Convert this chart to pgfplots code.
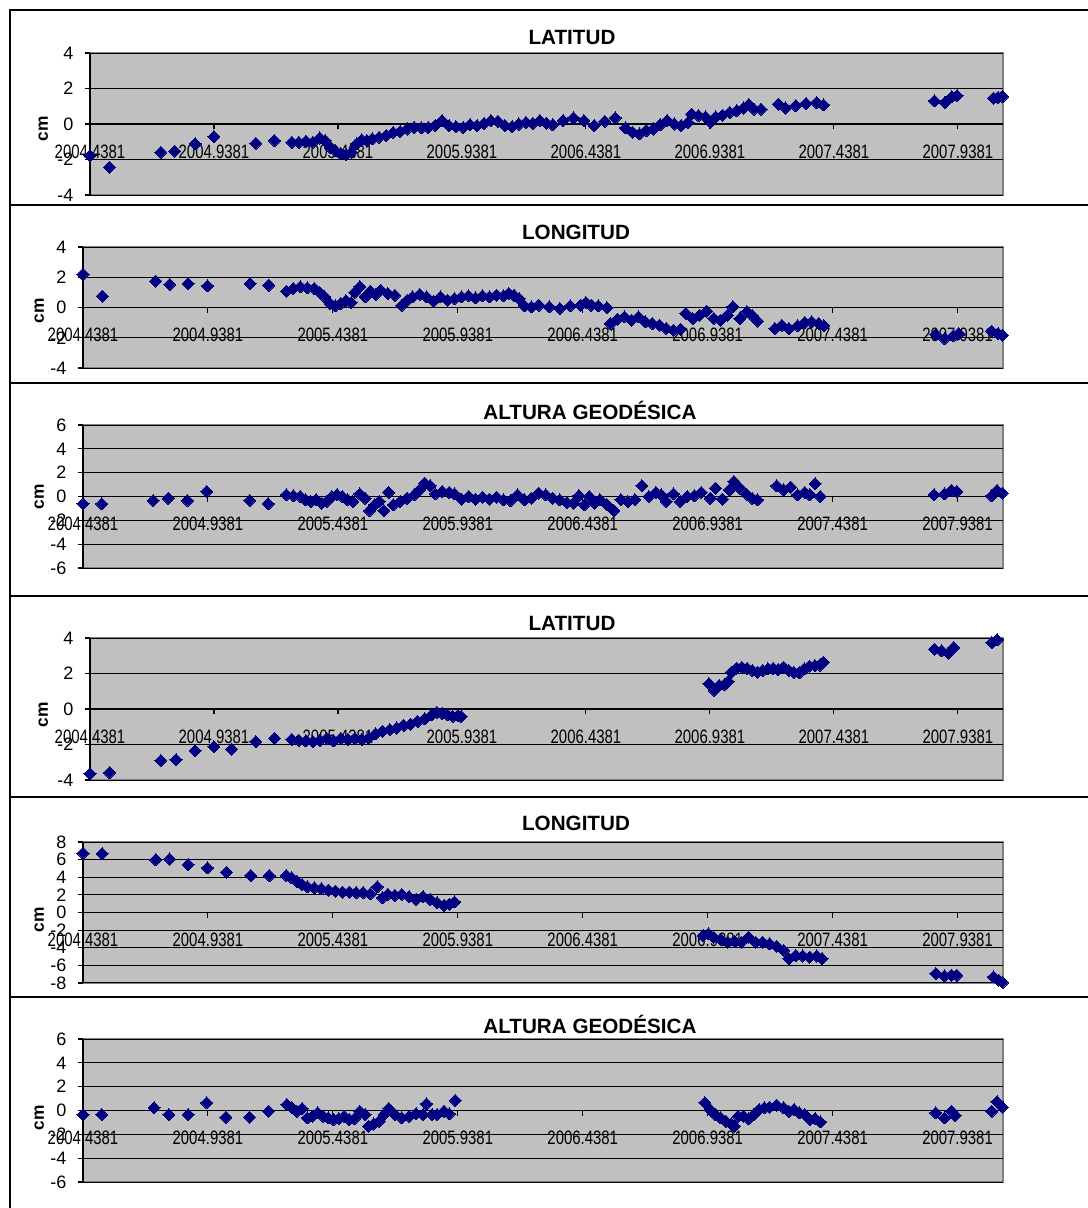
\documentclass[border=0pt]{standalone}
\usepackage{pgfplots}
\pgfplotsset{compat=1.18}
\usepackage{fontspec}
\setmainfont{Liberation Sans}
\usepackage{graphicx}
\definecolor{plotgray}{RGB}{192,192,192}
\definecolor{bordergray}{RGB}{128,128,128}
\definecolor{navyb}{RGB}{0,0,128}
\newcommand{\xl}[1]{\scalebox{1}[1.3]{#1}}
\pgfplotsset{
  excel/.style={
    scale only axis, anchor=north west,
    xmin=2004.4381, xmax=2008.12,
    enlargelimits=false, clip=false,
    axis x line=middle, axis y line=left,
    hide obscured x ticks=false, hide obscured y ticks=false,
    every inner x axis line/.append style={-},
    every outer y axis line/.append style={-},
    axis line style={-, black, line width=1pt},
    axis background/.style={fill=plotgray, draw=bordergray, line width=0.9pt},
    ymajorgrids, grid style={black, line width=0.75pt},
    xtick={2004.4381,2004.9381,2005.4381,2005.9381,2006.4381,2006.9381,2007.4381,2007.9381},
    xticklabels={\xl{2004.4381},\xl{2004.9381},\xl{2005.4381},\xl{2005.9381},\xl{2006.4381},\xl{2006.9381},\xl{2007.4381},\xl{2007.9381}},
    tick align=outside, major tick length=4pt,
    tick style={black, line width=0.8pt},
    xticklabel style={font=\fontsize{11.2}{12}\selectfont, anchor=center, yshift=-16.5pt},
    yticklabel style={font=\fontsize{13.5}{14}\selectfont, xshift=-5pt},
    scaled ticks=false,
  },
  pts/.style={only marks, mark=square*, mark size=3.2pt, color=navyb, mark options={rotate=45, fill=navyb, draw=navyb, line width=0pt}},
}
\begin{document}
\begin{tikzpicture}
\useasboundingbox (0,0) rectangle (816pt,-906pt);
\fill[white] (0,0) rectangle (816pt,-906pt);
% frame and separators
\draw[line width=1.1pt] (7.5pt,-906pt) -- (7.5pt,-7.5pt) -- (816pt,-7.5pt);
\foreach \yy in {153.75,287.25,447,597.75,747.75} {\draw[line width=1.1pt] (7.5pt,-\yy pt) -- (816pt,-\yy pt);}
% titles
\begin{scope}[every node/.style={font=\bfseries\fontsize{15.5}{18}\selectfont}]
\node at (429pt,-27.75pt) {LATITUD};
\node at (432pt,-174pt) {LONGITUD};
\node at (442.5pt,-307.5pt) {ALTURA GEODÉSICA};
\node at (429pt,-467.25pt) {LATITUD};
\node at (432pt,-617.25pt) {LONGITUD};
\node at (442.5pt,-768pt) {ALTURA GEODÉSICA};
\end{scope}
\begin{scope}[every node/.style={font=\bfseries\fontsize{13}{15}\selectfont, rotate=90}]
\node at (32.5pt,-96.75pt) {cm};
\node at (29.5pt,-233.25pt) {cm};
\node at (29.5pt,-372.75pt) {cm};
\node at (32.5pt,-536.25pt) {cm};
\node at (29.5pt,-690pt) {cm};
\node at (29.5pt,-838.5pt) {cm};
\end{scope}

% Panel 1 LATITUD
\begin{axis}[excel, at={(67.5pt,-39.75pt)}, width=684.75pt, height=106.5pt,
  ymin=-4, ymax=4, ytick={-4,-2,0,2,4}, yticklabels={-4,-2,0,2,4}]
\addplot[pts] coordinates {(2004.438,-1.78) (2004.517,-2.43) (2004.724,-1.59) (2004.780,-1.53) (2004.862,-1.12) (2004.938,-0.71) (2005.107,-1.08) (2005.182,-0.93) (2005.252,-1.03) (2005.280,-1.03) (2005.309,-0.97) (2005.337,-1.03) (2005.365,-0.79) (2005.386,-0.93) (2005.407,-1.31) (2005.428,-1.50) (2005.450,-1.68) (2005.471,-1.72) (2005.492,-1.59) (2005.513,-1.12) (2005.534,-0.90) (2005.555,-0.93) (2005.576,-0.84) (2005.604,-0.75) (2005.633,-0.65) (2005.661,-0.47) (2005.689,-0.43) (2005.717,-0.28) (2005.745,-0.19) (2005.774,-0.22) (2005.802,-0.19) (2005.830,-0.09) (2005.858,0.19) (2005.886,-0.09) (2005.914,-0.15) (2005.943,-0.19) (2005.971,-0.04) (2005.999,-0.09) (2006.027,0.04) (2006.055,0.19) (2006.083,0.15) (2006.111,-0.09) (2006.140,-0.15) (2006.168,0.00) (2006.196,0.09) (2006.224,0.04) (2006.252,0.19) (2006.278,0.05) (2006.304,-0.04) (2006.346,0.19) (2006.388,0.34) (2006.430,0.19) (2006.472,-0.09) (2006.514,0.15) (2006.556,0.34) (2006.598,-0.22) (2006.626,-0.47) (2006.654,-0.56) (2006.682,-0.37) (2006.710,-0.28) (2006.738,-0.04) (2006.766,0.19) (2006.794,0.00) (2006.822,-0.09) (2006.850,0.09) (2006.864,0.56) (2006.892,0.47) (2006.920,0.40) (2006.941,0.10) (2006.962,0.40) (2006.990,0.50) (2007.018,0.65) (2007.046,0.75) (2007.074,0.90) (2007.095,1.10) (2007.116,0.84) (2007.144,0.84) (2007.214,1.12) (2007.242,0.90) (2007.284,1.03) (2007.326,1.16) (2007.368,1.21) (2007.396,1.08) (2007.844,1.30) (2007.886,1.21) (2007.914,1.53) (2007.935,1.59) (2008.082,1.46) (2008.100,1.50) (2008.118,1.55)};
\end{axis}

% Panel 2 LONGITUD
\begin{axis}[excel, at={(62.25pt,-185.25pt)}, width=690pt, height=90.75pt,
  ymin=-4, ymax=4, ytick={-4,-2,0,2,4}, yticklabels={-4,-2,0,2,4}]
\addplot[pts] coordinates {(2004.438,2.20) (2004.515,0.75) (2004.729,1.74) (2004.785,1.52) (2004.859,1.59) (2004.936,1.43) (2005.107,1.59) (2005.182,1.48) (2005.252,1.08) (2005.280,1.26) (2005.308,1.37) (2005.336,1.30) (2005.364,1.26) (2005.385,0.99) (2005.406,0.70) (2005.427,0.26) (2005.448,0.11) (2005.469,0.26) (2005.490,0.44) (2005.511,0.33) (2005.525,0.99) (2005.546,1.37) (2005.567,0.70) (2005.588,1.08) (2005.609,0.86) (2005.630,1.15) (2005.658,0.93) (2005.686,0.81) (2005.714,0.15) (2005.735,0.48) (2005.757,0.70) (2005.785,0.86) (2005.813,0.70) (2005.841,0.42) (2005.869,0.70) (2005.897,0.48) (2005.925,0.59) (2005.953,0.70) (2005.981,0.77) (2006.009,0.64) (2006.037,0.77) (2006.065,0.70) (2006.093,0.81) (2006.121,0.77) (2006.142,0.93) (2006.163,0.81) (2006.184,0.59) (2006.205,0.11) (2006.233,0.04) (2006.262,0.15) (2006.304,0.04) (2006.346,-0.07) (2006.388,0.11) (2006.430,0.15) (2006.451,0.33) (2006.472,0.15) (2006.500,0.11) (2006.535,-0.02) (2006.549,-1.06) (2006.577,-0.77) (2006.605,-0.62) (2006.633,-0.84) (2006.661,-0.62) (2006.689,-0.95) (2006.717,-1.06) (2006.745,-1.17) (2006.773,-1.39) (2006.801,-1.50) (2006.829,-1.43) (2006.850,-0.40) (2006.878,-0.73) (2006.906,-0.51) (2006.934,-0.24) (2006.962,-0.73) (2006.990,-0.84) (2007.018,-0.51) (2007.039,0.04) (2007.067,-0.73) (2007.095,-0.29) (2007.116,-0.51) (2007.137,-0.90) (2007.207,-1.39) (2007.235,-1.17) (2007.263,-1.39) (2007.298,-1.21) (2007.326,-0.99) (2007.354,-0.95) (2007.382,-1.06) (2007.403,-1.21) (2007.851,-1.78) (2007.886,-2.05) (2007.921,-1.87) (2007.942,-1.72) (2008.075,-1.56) (2008.100,-1.72) (2008.118,-1.83)};
\end{axis}

% Panel 3 ALTURA
\begin{axis}[excel, at={(62.25pt,-318.75pt)}, width=690pt, height=107.25pt,
  ymin=-6, ymax=6, ytick={-6,-4,-2,0,2,4,6}, yticklabels={-6,-4,-2,0,2,4,6}]
\addplot[pts] coordinates {(2004.438,-0.62) (2004.513,-0.62) (2004.719,-0.34) (2004.779,-0.14) (2004.856,-0.34) (2004.933,0.42) (2005.105,-0.34) (2005.179,-0.62) (2005.252,0.14) (2005.280,0.06) (2005.308,0.00) (2005.329,-0.28) (2005.350,-0.42) (2005.371,-0.28) (2005.392,-0.56) (2005.413,-0.42) (2005.434,0.00) (2005.455,0.14) (2005.476,0.00) (2005.497,-0.28) (2005.518,-0.42) (2005.546,0.22) (2005.567,-0.14) (2005.585,-1.18) (2005.605,-0.70) (2005.624,-0.42) (2005.642,-1.18) (2005.661,0.34) (2005.680,-0.70) (2005.707,-0.42) (2005.735,-0.14) (2005.764,0.14) (2005.785,0.56) (2005.806,1.12) (2005.827,0.90) (2005.848,0.22) (2005.876,0.42) (2005.904,0.34) (2005.925,0.22) (2005.953,-0.22) (2005.981,0.00) (2006.009,-0.22) (2006.037,-0.06) (2006.065,-0.22) (2006.093,-0.06) (2006.121,-0.28) (2006.149,-0.34) (2006.177,0.14) (2006.205,-0.28) (2006.233,-0.14) (2006.262,0.28) (2006.290,0.14) (2006.318,-0.14) (2006.346,-0.28) (2006.374,-0.51) (2006.402,-0.56) (2006.423,0.06) (2006.444,-0.70) (2006.465,0.00) (2006.486,-0.56) (2006.507,-0.28) (2006.535,-0.70) (2006.563,-1.18) (2006.591,-0.28) (2006.619,-0.42) (2006.647,-0.28) (2006.675,0.90) (2006.703,0.00) (2006.731,0.34) (2006.752,0.14) (2006.773,-0.42) (2006.801,0.22) (2006.829,-0.42) (2006.857,0.00) (2006.885,0.06) (2006.913,0.34) (2006.948,-0.14) (2006.969,0.70) (2006.997,-0.22) (2007.025,0.56) (2007.043,1.26) (2007.067,0.70) (2007.095,0.14) (2007.116,-0.14) (2007.137,-0.28) (2007.214,0.90) (2007.242,0.56) (2007.270,0.79) (2007.298,0.14) (2007.326,0.34) (2007.347,0.14) (2007.368,1.07) (2007.389,0.00) (2007.844,0.14) (2007.886,0.22) (2007.914,0.51) (2007.935,0.42) (2008.075,0.06) (2008.096,0.51) (2008.117,0.28)};
\end{axis}

% Panel 4 LATITUD
\begin{axis}[excel, at={(67.5pt,-478.5pt)}, width=684.75pt, height=106.5pt,
  ymin=-4, ymax=4, ytick={-4,-2,0,2,4}, yticklabels={-4,-2,0,2,4}]
\addplot[pts] coordinates {(2004.438,-3.64) (2004.517,-3.58) (2004.724,-2.90) (2004.785,-2.85) (2004.862,-2.35) (2004.938,-2.13) (2005.010,-2.26) (2005.107,-1.84) (2005.182,-1.65) (2005.252,-1.71) (2005.280,-1.76) (2005.309,-1.80) (2005.337,-1.84) (2005.365,-1.76) (2005.393,-1.65) (2005.421,-1.80) (2005.450,-1.65) (2005.478,-1.71) (2005.506,-1.65) (2005.534,-1.71) (2005.562,-1.62) (2005.590,-1.40) (2005.618,-1.25) (2005.647,-1.16) (2005.675,-1.07) (2005.703,-0.92) (2005.731,-0.85) (2005.759,-0.70) (2005.788,-0.55) (2005.816,-0.33) (2005.837,-0.18) (2005.858,-0.24) (2005.880,-0.33) (2005.900,-0.42) (2005.921,-0.37) (2005.935,-0.42) (2006.934,1.43) (2006.955,1.06) (2006.976,1.33) (2006.997,1.37) (2007.011,1.56) (2007.025,2.07) (2007.046,2.30) (2007.067,2.35) (2007.088,2.30) (2007.109,2.17) (2007.130,2.07) (2007.151,2.17) (2007.172,2.26) (2007.193,2.30) (2007.214,2.22) (2007.235,2.35) (2007.256,2.17) (2007.277,2.07) (2007.298,2.04) (2007.319,2.26) (2007.340,2.41) (2007.361,2.44) (2007.382,2.48) (2007.396,2.63) (2007.844,3.37) (2007.872,3.28) (2007.900,3.15) (2007.921,3.46) (2008.075,3.74) (2008.096,3.89)};
\end{axis}

% Panel 5 LONGITUD
\begin{axis}[excel, at={(62.25pt,-631.5pt)}, width=690pt, height=105.75pt,
  ymin=-8, ymax=8, ytick={-8,-6,-4,-2,0,2,4,6,8}, yticklabels={-8,-6,-4,-2,0,2,4,6,8}]
\addplot[pts] coordinates {(2004.438,6.74) (2004.515,6.67) (2004.729,5.99) (2004.785,6.07) (2004.859,5.43) (2004.936,5.06) (2005.013,4.57) (2005.109,4.19) (2005.184,4.19) (2005.252,4.19) (2005.273,3.93) (2005.294,3.56) (2005.315,3.18) (2005.336,2.92) (2005.364,2.81) (2005.392,2.70) (2005.420,2.55) (2005.448,2.43) (2005.476,2.32) (2005.504,2.32) (2005.532,2.25) (2005.560,2.25) (2005.588,2.13) (2005.616,2.92) (2005.637,1.69) (2005.658,2.06) (2005.686,1.95) (2005.714,2.06) (2005.743,1.80) (2005.771,1.50) (2005.799,1.80) (2005.827,1.50) (2005.855,1.12) (2005.883,0.82) (2005.904,0.94) (2005.925,1.20) (2006.920,-2.62) (2006.941,-2.43) (2006.962,-2.81) (2006.990,-3.07) (2007.018,-3.37) (2007.046,-3.30) (2007.074,-3.37) (2007.102,-2.81) (2007.130,-3.37) (2007.158,-3.37) (2007.186,-3.56) (2007.214,-3.82) (2007.242,-4.31) (2007.263,-5.24) (2007.291,-4.87) (2007.319,-4.94) (2007.347,-5.06) (2007.375,-4.94) (2007.396,-5.24) (2007.851,-6.93) (2007.886,-7.19) (2007.914,-7.12) (2007.935,-7.12) (2008.082,-7.30) (2008.103,-7.68) (2008.118,-7.94)};
\end{axis}

% Panel 6 ALTURA
\begin{axis}[excel, at={(62.25pt,-779.25pt)}, width=690pt, height=107.25pt,
  ymin=-6, ymax=6, ytick={-6,-4,-2,0,2,4,6}, yticklabels={-6,-4,-2,0,2,4,6}]
\addplot[pts] coordinates {(2004.438,-0.34) (2004.513,-0.34) (2004.723,0.23) (2004.782,-0.34) (2004.859,-0.34) (2004.933,0.65) (2005.010,-0.56) (2005.105,-0.56) (2005.181,-0.06) (2005.254,0.51) (2005.272,0.28) (2005.294,-0.06) (2005.315,0.17) (2005.336,-0.62) (2005.357,-0.48) (2005.378,-0.20) (2005.399,-0.48) (2005.420,-0.62) (2005.441,-0.76) (2005.462,-0.68) (2005.483,-0.48) (2005.504,-0.76) (2005.525,-0.68) (2005.546,-0.06) (2005.567,-0.34) (2005.581,-1.32) (2005.602,-1.13) (2005.623,-0.90) (2005.644,-0.34) (2005.661,0.17) (2005.686,-0.34) (2005.714,-0.62) (2005.743,-0.48) (2005.771,-0.28) (2005.799,-0.34) (2005.813,0.56) (2005.835,-0.34) (2005.855,-0.34) (2005.883,-0.06) (2005.904,-0.28) (2005.928,0.85) (2006.927,0.65) (2006.948,0.08) (2006.969,-0.34) (2006.990,-0.62) (2007.011,-0.90) (2007.032,-1.13) (2007.046,-1.32) (2007.060,-0.48) (2007.081,-0.48) (2007.102,-0.68) (2007.123,-0.34) (2007.144,0.08) (2007.165,0.23) (2007.186,0.28) (2007.214,0.45) (2007.242,0.23) (2007.263,-0.06) (2007.284,0.08) (2007.305,-0.20) (2007.326,-0.34) (2007.347,-0.76) (2007.368,-0.68) (2007.389,-0.96) (2007.851,-0.20) (2007.886,-0.62) (2007.914,-0.06) (2007.928,-0.40) (2008.075,-0.06) (2008.096,0.73) (2008.117,0.28)};
\end{axis}
\end{tikzpicture}
\end{document}
